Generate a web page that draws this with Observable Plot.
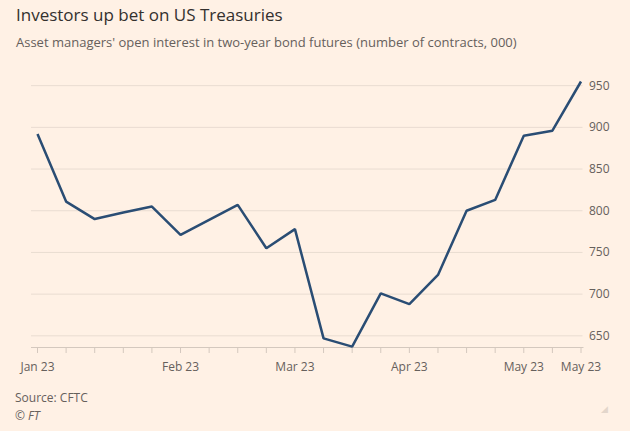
<!DOCTYPE html>
<html><head><meta charset="utf-8">
<script src="https://cdn.jsdelivr.net/npm/d3@7"></script>
<script src="https://cdn.jsdelivr.net/npm/@observablehq/plot@0.6"></script>
<style>
html,body{margin:0;padding:0;}
body{background:#FFF1E5;width:630px;height:431px;overflow:hidden;position:relative;font-family:"Open Sans",sans-serif;}
.t{position:absolute;white-space:nowrap;}
#title{left:16px;top:6px;font-size:17px;line-height:17px;color:#33302E;}
#subtitle{left:16px;top:35.5px;font-size:13px;line-height:13px;color:#66605C;}
#source{left:15px;top:392px;font-size:12px;line-height:12px;color:#66605C;}
#copy{left:15px;top:410px;font-size:12px;line-height:12px;color:#66605C;font-style:italic;}
#mark{left:601px;top:404px;font-size:9px;line-height:9px;color:#E3D6CB;}
#chart{position:absolute;left:0;top:55px;}
</style></head>
<body>
<div class="t" id="title">Investors up bet on US Treasuries</div>
<div class="t" id="subtitle">Asset managers' open interest in two-year bond futures (number of contracts, 000)</div>
<div id="chart"></div>
<div class="t" id="source">Source: CFTC</div>
<div class="t" id="copy">© FT</div>
<div class="t" id="mark">◢</div>
<script>
const dates = ["2023-01-03","2023-01-10","2023-01-17","2023-01-24","2023-01-31",
  "2023-02-07","2023-02-14","2023-02-21","2023-02-28","2023-03-07",
  "2023-03-14","2023-03-21","2023-03-28","2023-04-04","2023-04-11",
  "2023-04-18","2023-04-25","2023-05-02","2023-05-09","2023-05-16"];
const values = [892, 811, 790, 798, 805, 771, 789, 807, 755, 778,
  647, 637, 701, 688, 723, 800, 813, 890, 896, 955];
const labelDates = ["2023-01-03","2023-02-07","2023-03-07","2023-04-04","2023-05-02","2023-05-16"];
const yTicks = [650, 700, 750, 800, 850, 900, 950];
const yDomain = [636, 955];

const parse = d3.utcParse("%Y-%m-%d");
const data = dates.map((d, i) => ({date: parse(d), value: values[i]}));
const labelSet = new Set(labelDates.map(d => +parse(d)));
const fmt = d3.utcFormat("%b %y");

const plot = Plot.plot({
  width: 630,
  height: 330,
  marginLeft: 37,
  marginRight: 49.5,
  marginTop: 26,
  marginBottom: 38,
  style: {background: "transparent", fontFamily: "'Open Sans', sans-serif", fontSize: "12px", color: "#66605C"},
  x: {type: "utc", domain: [data[0].date, data[data.length - 1].date]},
  y: {domain: yDomain},
  marks: [
    Plot.ruleY(yTicks, {stroke: "#E9DCD1", strokeWidth: 1, insetLeft: -6, insetRight: -2}),
    Plot.frame({anchor: "bottom", stroke: "#D4C8BE", insetLeft: -6, insetRight: -2}),
    Plot.axisX({ticks: data.map(d => d.date), tickSize: 6, tickPadding: 9, stroke: "#D4C8BE",
      tickFormat: d => labelSet.has(+d) ? fmt(d) : "", fill: "#66605C", label: null}),
    Plot.axisY({anchor: "right", ticks: yTicks, tickSize: 0, tickPadding: 8, label: null, fill: "#66605C"}),
    Plot.line(data, {x: "date", y: "value", stroke: "#2A4D74", strokeWidth: 2.5, strokeLinejoin: "miter", strokeLinecap: "butt"})
  ]
});
document.getElementById("chart").appendChild(plot);
</script>
</body></html>
